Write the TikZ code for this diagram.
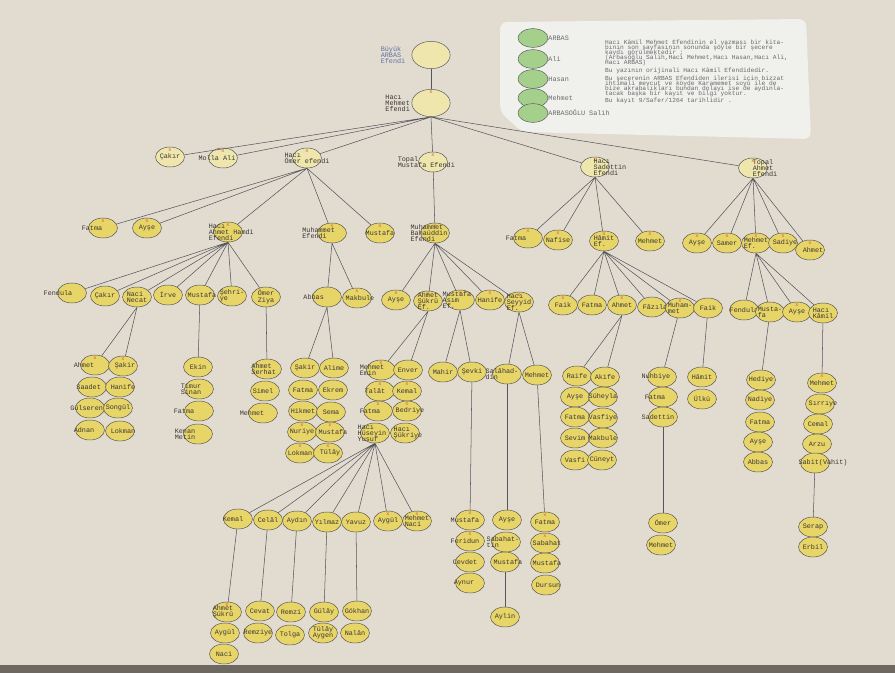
\documentclass[tikz,border=0pt]{standalone}
\usepackage{fontspec}
\newfontfamily\typew{Liberation Mono}
\usetikzlibrary{shapes.geometric}
\newcommand\tightlines{\lineskiplimit=-10pt\relax}
\definecolor{paper}{RGB}{226,219,207}
\definecolor{framedark}{RGB}{110,104,98}
\definecolor{card}{RGB}{240,240,236}
\definecolor{famyel}{RGB}{232,213,104}
\definecolor{paleyel}{RGB}{238,230,172}
\definecolor{leggreen}{RGB}{165,208,140}
\definecolor{inkline}{RGB}{85,85,92}
\definecolor{inktext}{RGB}{58,54,50}
\definecolor{inklight}{RGB}{105,105,110}
\definecolor{inkblue}{RGB}{95,115,165}
\definecolor{xred}{RGB}{215,85,60}
\tikzset{
  pers/.style = {ellipse, draw=inkline, fill=famyel, thin, minimum width=8.7mm, minimum height=6mm, inner sep=0pt},
  elder/.style = {pers, fill=paleyel},
  big/.style = {minimum width=11.5mm, minimum height=8.2mm},
  legend/.style = {ellipse, draw=inkline, fill=leggreen, thin, minimum width=9mm, minimum height=5.6mm, inner sep=0pt},
  lbl/.style = {font=\typew\fontsize{5.8}{5.2}\selectfont\tightlines, text=inktext, align=left, inner sep=0pt},
  note/.style = {font=\typew\fontsize{5.3}{4.3}\selectfont\tightlines, text=inklight, align=left, inner sep=0pt, anchor=north west},
  dead/.style = {label={[font=\typew\fontsize{4.5}{4.5}\selectfont, text=xred, inner sep=0pt, yshift=-1.5mm]north:x}},
  link/.style = {draw=inkline, line width=0.45pt}
}
\begin{document}
\begin{tikzpicture}[x=0.3mm, y=-0.3mm]

    % Paper, frame edge and the legend card
    \fill[paper] (0,0) rectangle (895,673);
    \fill[framedark] (0,665) rectangle (895,673);
    \fill[card, rounded corners=6pt] (500,22) -- (806,19) -- (811,139) -- (522,132) -- (500,112) -- cycle;
    \useasboundingbox (0,0) rectangle (895,673);

    % Legend
    \node[legend, label={[lbl, text=inklight]right:ARBAS}] (leg1) at (533,38) {};
    \node[legend, label={[lbl, text=inklight]right:Ali}] (leg2) at (533,59) {};
    \node[legend, label={[lbl, text=inklight]right:Hasan}] (leg3) at (533,79) {};
    \node[legend, label={[lbl, text=inklight]right:Mehmet}] (leg4) at (533,98) {};
    \node[legend, label={[lbl, text=inklight]right:ARBASOĞLU Salih}] (leg5) at (533,113) {};
    \node[note] (noteA) at (605,40) {Hacı Kâmil Mehmet Efendinin el yazması bir kita-\\bının son sayfasının sonunda şöyle bir şecere\\kaydı görülmektedir ;\\(Arbasoğlu Salih,Hacı Mehmet,Hacı Hasan,Hacı Ali,\\Hacı ARBAS)};
    \node[note] (noteB) at (605,68) {Bu yazının orijinali Hacı Kâmil Efendidedir.};
    \node[note] (noteC) at (605,76) {Bu şecerenin ARBAS Efendiden ilerisi için bizzat\\ihtimali mevcut ve köyde Karamemet soyu ile de\\bize akrabalıkları bundan dolayı ise de aydınla-\\tacak başka bir kayıt ve bilgi yoktur.};
    \node[note] (noteD) at (605,98) {Bu kayıt 9/Safer/1264 tarihlidir .};

    % Top: the two first fathers
    \node[elder, big, label={[lbl, text=inkblue, xshift=-11.4mm]center:Büyük\\ARBAS\\Efendi}] (arbas) at (431,55) {};
    \node[elder, big, dead, label={[lbl, xshift=-10mm]center:Hacı\\Mehmet\\Efendi}] (mehmet0) at (431,103) {};

    % Second row: sons of Hacı Mehmet
    \node[elder, dead, label={[lbl]center:Çakır}] (cakir1) at (170,157) {};
    \node[elder, dead, label={[lbl, xshift=-1.8mm]center:Molla Ali}] (molla) at (223,158) {};
    \node[elder, dead, label={[lbl]center:Hacı\\Ömer efendi}] (omer) at (307,158) {};
    \node[elder, dead, label={[lbl, xshift=-2mm]center:Topal\\Mustafa Efendi}] (topalm) at (433,162) {};
    \node[elder, dead, label={[lbl, xshift=4.5mm]center:Hacı\\Sadettin\\Efendi}] (sadettin) at (595,167) {};
    \node[elder, dead, label={[lbl, xshift=3.6mm]center:Topal\\Ahmet\\Efendi}] (topala) at (753,168) {};

    % Third row
    \node[pers, dead, label={[lbl, xshift=-3.3mm]center:Fatma}] (fatma1) at (103,228) {};
    \node[pers, dead, label={[lbl]center:Ayşe}] (ayse1) at (147,228) {};
    \node[pers, dead, label={[lbl, xshift=1mm]center:Hacı\\Ahmet Hamdi\\Efendi}] (hamdi) at (228,232) {};
    \node[pers, dead, label={[lbl, xshift=-4mm]center:Muhammet\\Efendi}] (muhef) at (332,233) {};
    \node[pers, dead, label={[lbl]center:Mustafa}] (mustafa1) at (380,233) {};
    \node[pers, dead, label={[lbl, xshift=-1.8mm]center:Muhammet\\Bahaüddin\\Efendi}] (bahaud) at (435,233) {};
    \node[pers, dead, label={[lbl, xshift=-3.6mm]center:Fatma}] (fatma2) at (528,238) {};
    \node[pers, dead, label={[lbl]center:Nafise}] (nafise) at (558,240) {};
    \node[pers, dead, label={[lbl]center:Hâmit\\Ef.}] (hamit) at (604,241) {};
    \node[pers, dead, label={[lbl]center:Mehmet}] (mehmet1) at (650,241) {};
    \node[pers, dead, label={[lbl]center:Ayşe}] (ayse2) at (697,243) {};
    \node[pers, dead, label={[lbl]center:Samer}] (samer) at (727,243) {};
    \node[pers, dead, label={[lbl]center:Mehmet\\Ef.}] (mehmetef) at (756,243) {};
    \node[pers, dead, label={[lbl, xshift=0.6mm]center:Sadiye}] (sadiye) at (783,243) {};
    \node[pers, dead, label={[lbl, xshift=0.9mm]center:Ahmet}] (ahmet1) at (810,250) {};

    % Fourth row: Hacı Ahmet Hamdi branch
    \node[pers, label={[lbl, xshift=-4.2mm]center:Fendula}] (fendula) at (72,293) {};
    \node[pers, label={[lbl]center:Çakır}] (cakir2) at (105,296) {};
    \node[pers, label={[lbl]center:Naci\\Necat}] (necat) at (137,297) {};
    \node[pers, label={[lbl]center:İrve}] (irve) at (168,295) {};
    \node[pers, label={[lbl, xshift=0.6mm]center:Mustafa}] (mustafa2) at (200,295) {};
    \node[pers, label={[lbl]center:Şehri-\\ye}] (sehriye) at (232,296) {};
    \node[pers, label={[lbl]center:Ömer\\Ziya}] (omerz) at (266,297) {};

    \node[pers, dead, label={[lbl, xshift=-3.3mm]center:Ahmet}] (ahmet2) at (95,365) {};
    \node[pers, dead, label={[lbl, xshift=0.6mm]center:Şakir}] (sakir1) at (123,366) {};
    \node[pers, label={[lbl, xshift=-1mm]center:Saadet}] (saadet) at (92,387) {};
    \node[pers, label={[lbl, xshift=-1mm]center:Gülseren}] (gulseren) at (90,408) {};
    \node[pers, label={[lbl, xshift=-1.8mm]center:Adnan}] (adnan) at (90,430) {};
    \node[pers, label={[lbl, xshift=0.9mm]center:Hanife}] (hanife1) at (120,387) {};
    \node[pers, label={[lbl]center:Songül}] (songul) at (118,408) {};
    \node[pers, label={[lbl, xshift=0.9mm]center:Lokman}] (lokman1) at (120,431) {};

    \node[pers, label={[lbl]center:Ekin}] (ekin) at (198,367) {};
    \node[pers, label={[lbl, xshift=-2.4mm]center:Timur\\Sinan}] (timur) at (199,389) {};
    \node[pers, label={[lbl, xshift=-4.5mm]center:Fatma}] (fatma3) at (199,411) {};
    \node[pers, label={[lbl, xshift=-3.9mm]center:Kenan\\Metin}] (kenan) at (198,434) {};

    \node[pers, label={[lbl, xshift=-1mm]center:Ahmet\\Serhat}] (serhat) at (267,369) {};
    \node[pers, label={[lbl, xshift=-0.6mm]center:Simel}] (simel) at (265,391) {};
    \node[pers, label={[lbl, xshift=-3.3mm]center:Mehmet}] (mehmet2) at (263,413) {};

    % Fourth row: Muhammet Efendi branch
    \node[pers, label={[lbl, xshift=-4mm]center:Abbas}] (abbas1) at (327,297) {};
    \node[pers, dead, label={[lbl, xshift=0.9mm]center:Makbule}] (makbule1) at (357,298) {};
    \node[pers, label={[lbl]center:Şakir}] (sakir2) at (305,368) {};
    \node[pers, label={[lbl]center:Alime}] (alime) at (334,368) {};
    \node[pers, label={[lbl]center:Fatma}] (fatma4) at (303,390) {};
    \node[pers, label={[lbl]center:Hikmet}] (hikmet) at (303,411) {};
    \node[pers, dead, label={[lbl]center:Nuriye}] (nuriye) at (302,432) {};
    \node[pers, dead, label={[lbl]center:Lokman}] (lokman2) at (300,453) {};
    \node[pers, label={[lbl]center:Ekrem}] (ekrem) at (333,390) {};
    \node[pers, label={[lbl]center:Sema}] (sema) at (331,412) {};
    \node[pers, dead, label={[lbl, xshift=0.9mm]center:Mustafa}] (mustafa3) at (330,432) {};
    \node[pers, dead, label={[lbl, xshift=0.6mm]center:Tülây}] (tulay1) at (328,453) {};

    % Fourth row: Muhammet Bahaüddin branch
    \node[pers, dead, label={[lbl]center:Ayşe}] (ayse3) at (396,300) {};
    \node[pers, dead, label={[lbl]center:Ahmet\\Şükrü\\Ef.}] (sukru) at (428,301) {};
    \node[pers, dead, label={[lbl, xshift=-0.9mm]center:Mustafa\\Asım\\Ef.}] (asim) at (460,300) {};
    \node[pers, dead, label={[lbl]center:Hanife}] (hanife2) at (490,300) {};
    \node[pers, dead, label={[lbl]center:Hacı\\Seyyid\\Ef.}] (seyyid) at (519,302) {};

    \node[pers, dead, label={[lbl, xshift=-2.7mm]center:Mehmet\\Emin}] (emin) at (381,370) {};
    \node[pers, label={[lbl]center:Enver}] (enver) at (408,370) {};
    \node[pers, dead, label={[lbl, xshift=-1.5mm]center:Talât}] (talat) at (380,391) {};
    \node[pers, dead, label={[lbl]center:Kemal}] (kemal1) at (407,391) {};
    \node[pers, dead, label={[lbl, xshift=-2.4mm]center:Fatma}] (fatma5) at (378,411) {};
    \node[pers, dead, label={[lbl, xshift=0.9mm]center:Bedriye}] (bedriye) at (407,411) {};
    \node[pers, label={[lbl, xshift=-0.9mm]center:Hacı\\Hüseyin\\Yusuf}] (huseyin) at (375,433) {};
    \node[pers, label={[lbl, xshift=0.9mm]center:Hacı\\Şükriye}] (sukriye) at (405,433) {};
    \node[pers, label={[lbl]center:Mahir}] (mahir) at (443,372) {};
    \node[pers, label={[lbl]center:Şevki}] (sevki) at (472,372) {};
    \node[pers, label={[lbl, xshift=-1.5mm]center:Salâhad-\\din}] (salah) at (507,374) {};
    \node[pers, label={[lbl]center:Mehmet}] (mehmet3) at (537,375) {};

    % Sons of Hacı Hüseyin Yusuf and their children
    \node[pers, label={[lbl, xshift=-1.5mm]center:Kemal}] (kemal2) at (238,519) {};
    \node[pers, label={[lbl]center:Celâl}] (celal) at (268,520) {};
    \node[pers, label={[lbl]center:Aydın}] (aydin) at (297,521) {};
    \node[pers, label={[lbl]center:Yılmaz}] (yilmaz) at (327,522) {};
    \node[pers, label={[lbl]center:Yavuz}] (yavuz) at (356,522) {};
    \node[pers, dead, label={[lbl]center:Aygül}] (aygul1) at (388,521) {};
    \node[pers, dead, label={[lbl]center:Mehmet\\Naci}] (naci1) at (417,521) {};

    \node[pers, dead, label={[lbl, xshift=-1.2mm]center:Ahmet\\Şükrü}] (sukru2) at (227,612) {};
    \node[pers, label={[lbl]center:Aygül}] (aygul2) at (225,633) {};
    \node[pers, label={[lbl]center:Naci}] (naci2) at (224,654) {};
    \node[pers, label={[lbl]center:Cevat}] (cevat) at (260,611) {};
    \node[pers, label={[lbl]center:Remziye}] (remziye) at (258,633) {};
    \node[pers, label={[lbl]center:Remzi}] (remzi) at (291,612) {};
    \node[pers, label={[lbl]center:Tolga}] (tolga) at (290,635) {};
    \node[pers, label={[lbl]center:Gülây}] (gulay) at (324,612) {};
    \node[pers, label={[lbl]center:Tülây\\Aygen}] (tulay2) at (323,633) {};
    \node[pers, label={[lbl]center:Gökhan}] (gokhan) at (357,611) {};
    \node[pers, label={[lbl]center:Nalân}] (nalan) at (355,633) {};

    \node[pers, dead, label={[lbl, xshift=-1.5mm]center:Mustafa}] (mustafa4) at (470,520) {};
    \node[pers, dead, label={[lbl, xshift=-1.5mm]center:Feridun}] (feridun) at (470,541) {};
    \node[pers, label={[lbl, xshift=-1.5mm]center:Cevdet}] (cevdet) at (470,562) {};
    \node[pers, label={[lbl, xshift=-1.8mm]center:Aynur}] (aynur) at (470,583) {};
    \node[pers, label={[lbl]center:Ayşe}] (ayse4) at (507,520) {};
    \node[pers, label={[lbl, xshift=-0.9mm]center:Sabahat-\\tin}] (sabahat1) at (506,542) {};
    \node[pers, label={[lbl, xshift=0.9mm]center:Mustafa}] (mustafa5) at (505,562) {};
    \node[pers, label={[lbl]center:Aylin}] (aylin) at (505,617) {};
    \node[pers, dead, label={[lbl]center:Fatma}] (fatma6) at (545,522) {};
    \node[pers, dead, label={[lbl, xshift=0.6mm]center:Sabahat}] (sabahat2) at (545,543) {};
    \node[pers, label={[lbl, xshift=0.6mm]center:Mustafa}] (mustafa6) at (545,563) {};
    \node[pers, label={[lbl, xshift=0.6mm]center:Dursun}] (dursun) at (546,585) {};

    % Fourth row: Hâmit Ef. branch
    \node[pers, dead, label={[lbl]center:Faik}] (faik1) at (563,305) {};
    \node[pers, label={[lbl]center:Fatma}] (fatma7) at (592,305) {};
    \node[pers, dead, label={[lbl]center:Ahmet}] (ahmet3) at (622,305) {};
    \node[pers, label={[lbl, xshift=0.9mm]center:Fâzıla}] (fazila) at (652,307) {};
    \node[pers, dead, label={[lbl]center:Muham-\\met}] (muhammet) at (680,308) {};
    \node[pers, label={[lbl]center:Faik}] (faik2) at (708,308) {};

    \node[pers, label={[lbl]center:Raife}] (raife) at (577,376) {};
    \node[pers, label={[lbl]center:Akife}] (akife) at (605,377) {};
    \node[pers, label={[lbl]center:Ayşe}] (ayse5) at (575,397) {};
    \node[pers, label={[lbl]center:Fatma}] (fatma8) at (575,417) {};
    \node[pers, label={[lbl]center:Sevim}] (sevim) at (575,438) {};
    \node[pers, label={[lbl]center:Vasfi}] (vasfi) at (575,460) {};
    \node[pers, label={[lbl]center:Süheyla}] (suheyla) at (603,397) {};
    \node[pers, label={[lbl]center:Vasfiye}] (vasfiye) at (603,418) {};
    \node[pers, label={[lbl]center:Makbule}] (makbule2) at (603,438) {};
    \node[pers, label={[lbl]center:Cüneyt}] (cuneyt) at (602,460) {};
    \node[pers, label={[lbl, xshift=-1.8mm]center:Nuhbiye}] (nuhbiye) at (662,377) {};
    \node[pers, label={[lbl, xshift=-2.4mm]center:Fatma}] (fatma9) at (663,397) {};
    \node[pers, label={[lbl, xshift=-1.5mm]center:Sadettin}] (sadettin2) at (663,417) {};
    \node[pers, label={[lbl]center:Ömer}] (omer2) at (663,523) {};
    \node[pers, label={[lbl]center:Mehmet}] (mehmet4) at (661,545) {};
    \node[pers, label={[lbl]center:Hâmit}] (hamit2) at (702,377) {};
    \node[pers, label={[lbl]center:Ülkü}] (ulku) at (702,399) {};

    % Fourth row: Mehmet Ef. branch
    \node[pers, label={[lbl]center:Fendula}] (fendula2) at (744,310) {};
    \node[pers, label={[lbl]center:Musta-\\fa}] (mustafa7) at (770,312) {};
    \node[pers, dead, label={[lbl]center:Ayşe}] (ayse6) at (797,312) {};
    \node[pers, label={[lbl]center:Hacı\\Kâmil}] (kamil) at (823,313) {};
    \node[pers, label={[lbl]center:Hediye}] (hediye) at (761,380) {};
    \node[pers, label={[lbl]center:Nadiye}] (nadiye) at (760,400) {};
    \node[pers, label={[lbl]center:Fatma}] (fatma10) at (760,422) {};
    \node[pers, label={[lbl]center:Ayşe}] (ayse7) at (758,442) {};
    \node[pers, label={[lbl]center:Abbas}] (abbas2) at (758,462) {};
    \node[pers, dead, label={[lbl]center:Mehmet}] (mehmet5) at (822,383) {};
    \node[pers, label={[lbl, xshift=0.9mm]center:Sırrıye}] (sirriye) at (820,404) {};
    \node[pers, label={[lbl]center:Cemal}] (cemal) at (818,424) {};
    \node[pers, label={[lbl]center:Arzu}] (arzu) at (817,444) {};
    \node[pers, label={[lbl, xshift=2.4mm]center:Sabit(Vahit)}] (sabit) at (815,463) {};
    \node[pers, label={[lbl]center:Serap}] (serap) at (813,527) {};
    \node[pers, label={[lbl]center:Erbil}] (erbil) at (813,547) {};

    % Lines from fathers to children
    \draw[link] (arbas) -- (mehmet0);
    \draw[link] (mehmet0.south) -- (cakir1) (mehmet0.south) -- (molla) (mehmet0.south) -- (omer)
      (mehmet0.south) -- (topalm) (mehmet0.south) -- (sadettin) (mehmet0.south) -- (topala);
    \draw[link] (omer.south) -- (fatma1) (omer.south) -- (ayse1) (omer.south) -- (hamdi)
      (omer.south) -- (muhef) (omer.south) -- (mustafa1);
    \draw[link] (topalm) -- (bahaud);
    \draw[link] (sadettin.south) -- (fatma2) (sadettin.south) -- (nafise) (sadettin.south) -- (hamit)
      (sadettin.south) -- (mehmet1);
    \draw[link] (topala.south) -- (ayse2) (topala.south) -- (samer) (topala.south) -- (mehmetef)
      (topala.south) -- (sadiye) (topala.south) -- (ahmet1);
    \draw[link] (hamdi.south) -- (fendula) (hamdi.south) -- (cakir2) (hamdi.south) -- (necat)
      (hamdi.south) -- (irve) (hamdi.south) -- (mustafa2) (hamdi.south) -- (sehriye) (hamdi.south) -- (omerz);
    \draw[link] (necat.south) -- (ahmet2) (necat.south) -- (sakir1);
    \draw[link] (mustafa2) -- (ekin);
    \draw[link] (omerz) -- (serhat);
    \draw[link] (muhef.south) -- (abbas1) (muhef.south) -- (makbule1);
    \draw[link] (abbas1.south) -- (sakir2) (abbas1.south) -- (alime);
    \draw[link] (bahaud.south) -- (ayse3) (bahaud.south) -- (sukru) (bahaud.south) -- (asim)
      (bahaud.south) -- (hanife2) (bahaud.south) -- (seyyid);
    \draw[link] (sukru.south) -- (emin) (sukru.south) -- (enver);
    \draw[link] (asim.south) -- (mahir) (asim.south) -- (sevki);
    \draw[link] (seyyid.south) -- (salah) (seyyid.south) -- (mehmet3);
    \draw[link] (huseyin.south) -- (kemal2) (huseyin.south) -- (celal) (huseyin.south) -- (aydin)
      (huseyin.south) -- (yilmaz) (huseyin.south) -- (yavuz) (huseyin.south) -- (aygul1) (huseyin.south) -- (naci1);
    \draw[link] (kemal2) -- (sukru2);
    \draw[link] (celal) -- (cevat);
    \draw[link] (aydin) -- (remzi);
    \draw[link] (yilmaz) -- (gulay);
    \draw[link] (yavuz) -- (gokhan);
    \draw[link] (sevki) -- (mustafa4);
    \draw[link] (salah) -- (ayse4);
    \draw[link] (mehmet3) -- (fatma6);
    \draw[link] (mustafa5) -- (aylin);
    \draw[link] (hamit.south) -- (faik1) (hamit.south) -- (fatma7) (hamit.south) -- (ahmet3)
      (hamit.south) -- (fazila) (hamit.south) -- (muhammet) (hamit.south) -- (faik2);
    \draw[link] (ahmet3.south) -- (raife) (ahmet3.south) -- (akife);
    \draw[link] (muhammet) -- (nuhbiye);
    \draw[link] (faik2) -- (hamit2);
    \draw[link] (sadettin2) -- (omer2);
    \draw[link] (mehmetef.south) -- (fendula2) (mehmetef.south) -- (mustafa7) (mehmetef.south) -- (ayse6)
      (mehmetef.south) -- (kamil);
    \draw[link] (mustafa7) -- (hediye);
    \draw[link] (kamil) -- (mehmet5);
    \draw[link] (sabit) -- (serap);

\end{tikzpicture}
\end{document}
